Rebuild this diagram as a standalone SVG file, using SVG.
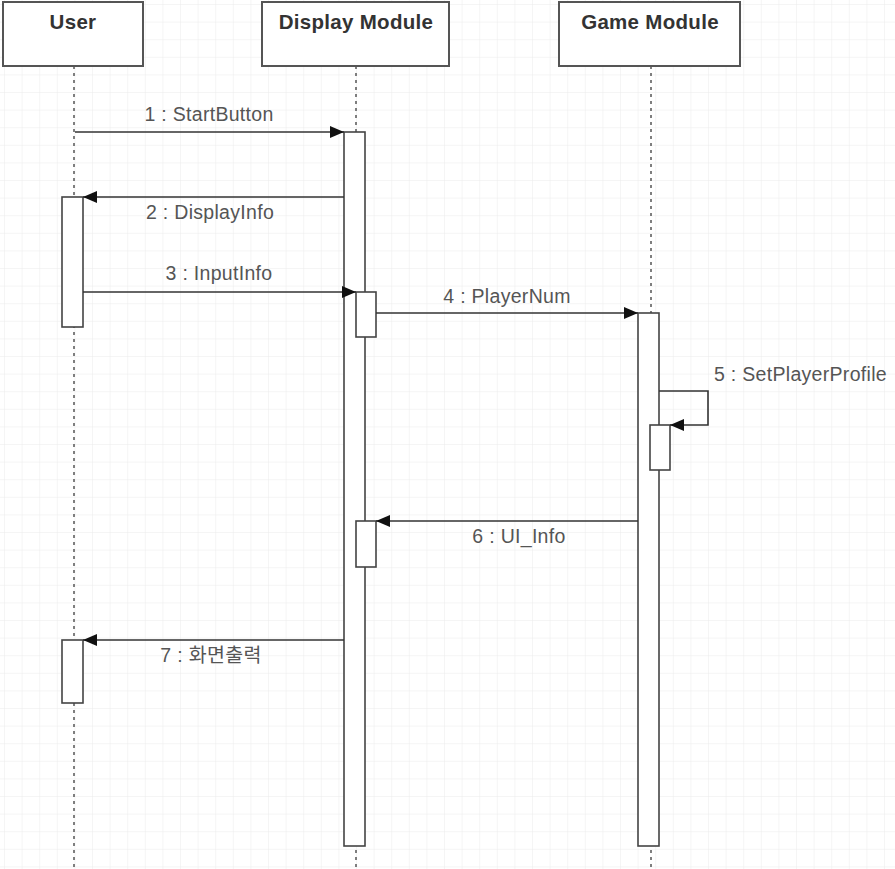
<svg xmlns="http://www.w3.org/2000/svg" width="895" height="869" viewBox="0 0 895 869">
<defs>
<pattern id="grid" width="17.6" height="17.6" patternUnits="userSpaceOnUse" x="5" y="5">
<path d="M17.6 0 V17.6 M0 17.6 H17.6" fill="none" stroke="#ebebeb" stroke-width="1"/>
</pattern>
<marker id="ah" viewBox="0 0 14 12" refX="14" refY="6" markerWidth="14" markerHeight="12" markerUnits="userSpaceOnUse" orient="auto">
<path d="M0 0 L14 6 L0 12 Z" fill="#111"/>
</marker>
<style>
.box{fill:#fff;stroke:#555;stroke-width:2}
.act{fill:#fff;stroke:#444;stroke-width:1.6}
.life{stroke:#555;stroke-width:1.5;stroke-dasharray:3 4;fill:none}
.msg{stroke:#333;stroke-width:1.6;fill:none;marker-end:url(#ah)}
.hdr{font-family:"Liberation Sans",Arial,sans-serif;font-weight:bold;font-size:20.5px;fill:#333;text-anchor:middle;letter-spacing:0.3px}
.lbl{font-family:"Liberation Sans",Arial,"Noto Sans CJK KR",sans-serif;font-size:19.5px;fill:#555;text-anchor:middle;letter-spacing:0.3px}
</style>
</defs>
<rect width="895" height="869" fill="#fff"/>
<rect width="895" height="869" fill="url(#grid)"/>

<g id="user">
<rect class="box" x="3" y="2" width="140" height="64"/>
<text class="hdr" x="73" y="29">User</text>
<line class="life" x1="74" y1="66" x2="74" y2="869"/>
<rect class="act" x="62" y="197" width="21" height="130"/>
<rect class="act" x="62" y="640" width="21" height="63"/>
</g>

<g id="display">
<rect class="box" x="262" y="2" width="187" height="64"/>
<text class="hdr" x="356" y="29">Display Module</text>
<line class="life" x1="356" y1="66" x2="356" y2="869"/>
<rect class="act" x="344" y="132" width="21" height="714"/>
<rect class="act" x="356" y="292" width="20" height="45"/>
<rect class="act" x="356" y="521" width="20" height="46"/>
</g>

<g id="game">
<rect class="box" x="559" y="2" width="181" height="64"/>
<text class="hdr" x="650" y="29">Game Module</text>
<line class="life" x1="651" y1="66" x2="651" y2="869"/>
<rect class="act" x="638" y="313" width="21" height="533"/>
<rect class="act" x="650" y="425" width="20" height="45"/>
</g>

<g id="connectors">
<line class="msg" x1="75" y1="132" x2="344" y2="132"/>
<text class="lbl" x="209" y="121">1 : StartButton</text>
<line class="msg" x1="344" y1="197" x2="83" y2="197"/>
<text class="lbl" x="210" y="219">2 : DisplayInfo</text>
<line class="msg" x1="83" y1="292" x2="356" y2="292"/>
<text class="lbl" x="219" y="280">3 : InputInfo</text>
<line class="msg" x1="376" y1="313" x2="638" y2="313"/>
<text class="lbl" x="507" y="303">4 : PlayerNum</text>
<path class="msg" d="M659 391 H708 V425 H670"/>
<text class="lbl" x="714" y="381" style="text-anchor:start">5 : SetPlayerProfile</text>
<line class="msg" x1="638" y1="521" x2="376" y2="521"/>
<text class="lbl" x="519" y="543">6 : UI_Info</text>
<line class="msg" x1="344" y1="640" x2="83" y2="640"/>
<text class="lbl" x="211" y="662">7 : 화면출력</text>
</g>
</svg>
